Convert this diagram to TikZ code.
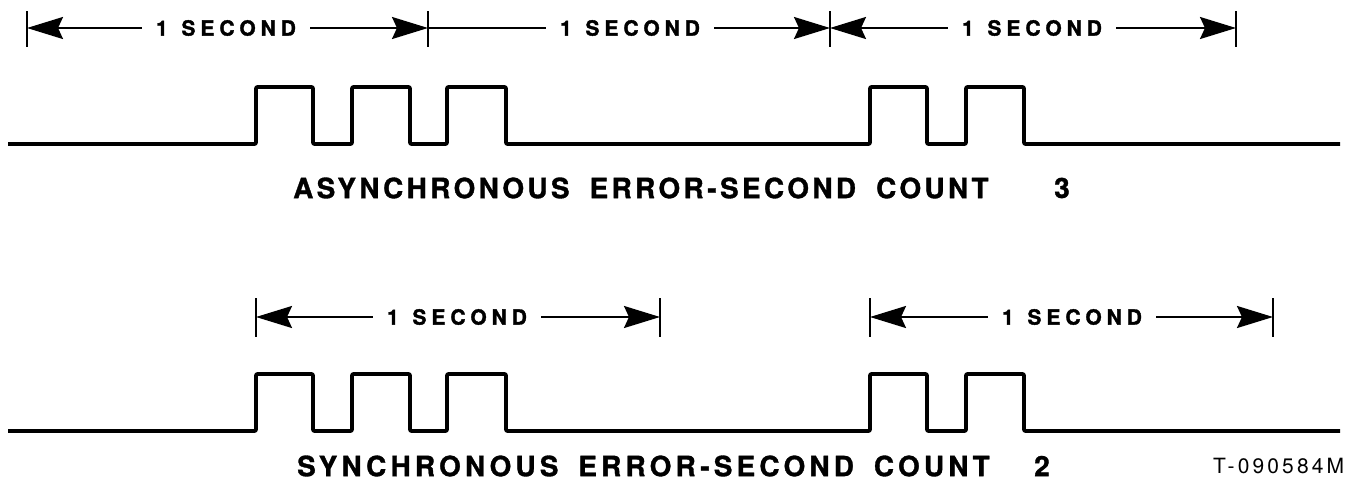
\documentclass[tikz,border=0pt]{standalone}
\usepackage{fontspec}
\setmainfont{TeX Gyre Heros}
\newfontfamily\secfont[LetterSpace=24,FakeBold=1.6]{TeX Gyre Heros}
\newfontfamily\capfonta[LetterSpace=12,FakeBold=1.2]{TeX Gyre Heros}
\newfontfamily\capfontb[LetterSpace=15,FakeBold=1.2]{TeX Gyre Heros}
\newfontfamily\digfont[FakeBold=1.2]{TeX Gyre Heros}
\newfontfamily\tnfont[LetterSpace=15]{TeX Gyre Heros}
\usetikzlibrary{arrows.meta}
\begin{document}
\begin{tikzpicture}[x=1pt,y=-1pt,
  sig/.style={line width=3.6pt, line join=round, rounded corners=1pt},
  tickline/.style={line width=2.6pt},
  shaft/.style={line width=2.2pt},
  arr/.style={shaft, -{Stealth[length=36pt,width=22pt,inset=5pt]}},
  seclabel/.style={font=\secfont\bfseries\fontsize{20.9pt}{24pt}\selectfont, inner xsep=14pt, inner ysep=0pt},
  capa/.style={font=\capfonta\bfseries\fontsize{27.9pt}{32pt}\selectfont, inner sep=0pt, anchor=west},
  capb/.style={font=\capfontb\bfseries\fontsize{27.9pt}{32pt}\selectfont, inner sep=0pt, anchor=west},
  digit/.style={font=\digfont\bfseries\fontsize{27.9pt}{32pt}\selectfont, inner sep=0pt},
  tnum/.style={font=\tnfont\fontsize{21pt}{24pt}\selectfont, inner sep=0pt, anchor=west},
  wave/.pic={
    \draw[sig] (8,0) -- (256,0) -- (256,-57) -- (313,-57) -- (313,0)
      -- (352,0) -- (352,-57) -- (410,-57) -- (410,0)
      -- (447,0) -- (447,-57) -- (506,-57) -- (506,0)
      -- (870,0) -- (870,-57) -- (927,-57) -- (927,0)
      -- (966,0) -- (966,-57) -- (1024,-57) -- (1024,0) -- (1340,0);
  }
]
\useasboundingbox (0,0) rectangle (1353,485);

% ---------- top: asynchronous ----------
\coordinate (a0) at (27,28);
\coordinate (a1) at (428,28);
\coordinate (a2) at (830,28);
\coordinate (a3) at (1236,28);
\foreach \c in {a0,a1,a2,a3}
  \draw[tickline] ([yshift=17pt]\c) -- ([yshift=-19pt]\c);

\node[seclabel] (la1) at (226,28) {1\hspace{3pt} SECOND};
\node[seclabel] (la2) at (630,28) {1\hspace{3pt} SECOND};
\node[seclabel] (la3) at (1032,28) {1\hspace{3pt} SECOND};

\draw[arr] (la1.west) -- (a0);
\draw[arr] (la1.east) -- (a1);
\draw[shaft] (la2.west) -- (a1);
\draw[arr] (la2.east) -- (a2);
\draw[arr] (la3.west) -- (a2);
\draw[arr] (la3.east) -- (a3);

\pic at (0,144) {wave};

\node[capa] (capA) at (293,188) {ASYNCHRONOUS\hspace{9pt} ERROR-SECOND\hspace{9pt} COUNT};
\node[digit] (numA) at (1062,188) {3};

% ---------- bottom: synchronous ----------
\coordinate (b0) at (256,317);
\coordinate (b1) at (660,317);
\coordinate (b2) at (870,317);
\coordinate (b3) at (1273,317);
\foreach \c in {b0,b1,b2,b3}
  \draw[tickline] ([yshift=19pt]\c) -- ([yshift=-20pt]\c);

\node[seclabel] (lb1) at (457,317) {1\hspace{3pt} SECOND};
\node[seclabel] (lb2) at (1072,317) {1\hspace{3pt} SECOND};

\draw[arr] (lb1.west) -- (b0);
\draw[arr] (lb1.east) -- (b1);
\draw[arr] (lb2.west) -- (b2);
\draw[arr] (lb2.east) -- (b3);

\pic at (0,431) {wave};

\node[capb] (capB) at (297,466) {SYNCHRONOUS\hspace{8pt} ERROR-SECOND\hspace{8pt} COUNT};
\node[digit] (numB) at (1042,466) {2};
\node[tnum] (tag) at (1213,466) {T-090584M};
\end{tikzpicture}
\end{document}
